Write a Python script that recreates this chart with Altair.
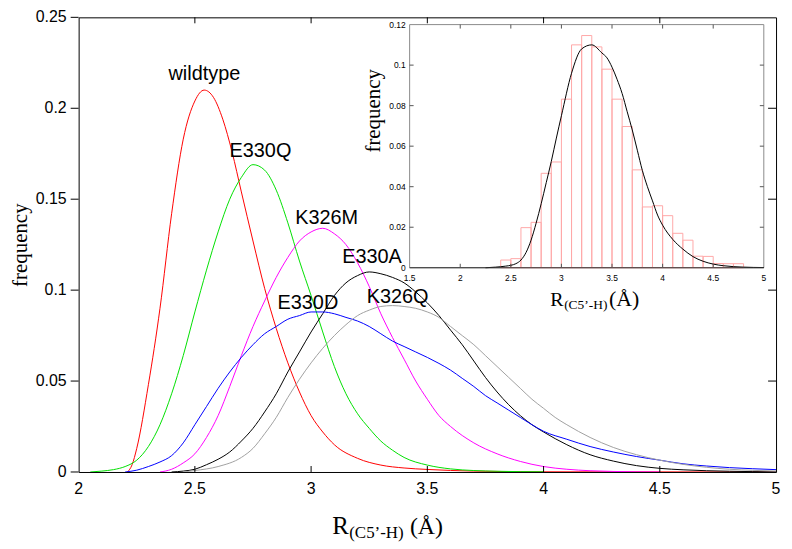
import altair as alt
import pandas as pd

# ---------------- data ----------------
series_names = ["wildtype", "E330Q", "K326M", "E330A", "E330D", "K326Q"]
series_colors = ["#ff0000", "#00e000", "#ff00ff", "#000000", "#0000ff", "#a0a0a0"]

wt_x = [2.21, 2.23, 2.25, 2.30, 2.35, 2.40, 2.45, 2.50, 2.54, 2.58, 2.62, 2.66, 2.70, 2.75,
        2.80, 2.85, 2.90, 2.95, 3.00, 3.05, 3.10, 3.20, 3.30, 3.40, 3.50, 3.70, 4.00, 5.00]
wt_y = [0.0, 0.004, 0.013, 0.048, 0.090, 0.142, 0.183, 0.204, 0.210, 0.206, 0.194, 0.176, 0.154, 0.127,
        0.101, 0.079, 0.060, 0.044, 0.031, 0.022, 0.015, 0.0075, 0.0038, 0.0022, 0.0014, 0.0005, 0.0001, 0.0]

q_x = [2.05, 2.10, 2.15, 2.20, 2.25, 2.30, 2.35, 2.40, 2.45, 2.50, 2.55, 2.60, 2.65, 2.70, 2.75,
       2.80, 2.85, 2.90, 2.95, 3.00, 3.05, 3.10, 3.15, 3.20, 3.25, 3.30, 3.35, 3.40, 3.50, 3.60, 3.70, 3.80, 4.00]
q_y = [0.0, 0.0005, 0.0013, 0.003, 0.0065, 0.014, 0.026, 0.043, 0.064, 0.088, 0.111, 0.132, 0.150, 0.162, 0.169,
       0.166, 0.155, 0.137, 0.116, 0.097, 0.077, 0.058, 0.043, 0.032, 0.024, 0.017, 0.012, 0.008, 0.0038, 0.0017,
       0.0008, 0.0004, 0.0001]

m_x = [2.35, 2.40, 2.45, 2.50, 2.55, 2.60, 2.65, 2.70, 2.75, 2.80, 2.85, 2.90, 2.95, 3.00, 3.05, 3.10,
       3.15, 3.20, 3.25, 3.30, 3.35, 3.40, 3.45, 3.50, 3.55, 3.60, 3.70, 3.80, 3.90, 4.00, 4.10, 4.20, 4.30, 4.50]
m_y = [0.0, 0.0015, 0.005, 0.010, 0.019, 0.031, 0.047, 0.064, 0.080, 0.094, 0.107, 0.118, 0.127, 0.132, 0.134, 0.131,
       0.125, 0.115, 0.102, 0.087, 0.074, 0.062, 0.050, 0.040, 0.031, 0.025, 0.016, 0.010, 0.0058, 0.003, 0.0015,
       0.0007, 0.0003, 0.0]

a_x = [2.40, 2.45, 2.50, 2.55, 2.60, 2.65, 2.70, 2.75, 2.80, 2.85, 2.90, 2.95, 3.00, 3.05, 3.10, 3.15, 3.20,
       3.25, 3.30, 3.35, 3.40, 3.45, 3.50, 3.55, 3.60, 3.65, 3.70, 3.75, 3.80, 3.85, 3.90, 3.95, 4.00,
       4.10, 4.20, 4.30, 4.40, 4.50, 4.60, 4.80, 5.00]
a_y = [0.0, 0.0005, 0.0015, 0.004, 0.007, 0.011, 0.017, 0.024, 0.033, 0.043, 0.055, 0.066, 0.077, 0.087, 0.097, 0.104,
       0.108, 0.110, 0.109, 0.107, 0.104, 0.099, 0.093, 0.086, 0.078, 0.070, 0.061, 0.052, 0.044, 0.037, 0.031, 0.026,
       0.022, 0.015, 0.0095, 0.006, 0.0035, 0.002, 0.0012, 0.0004, 0.0001]

d_x = [2.20, 2.25, 2.30, 2.35, 2.40, 2.45, 2.50, 2.55, 2.60, 2.65, 2.70, 2.75, 2.80, 2.85, 2.90, 2.95, 3.00,
       3.05, 3.10, 3.15, 3.20, 3.25, 3.30, 3.35, 3.40, 3.45, 3.50, 3.55, 3.60, 3.65, 3.70, 3.75, 3.80, 3.85,
       3.90, 3.95, 4.00, 4.10, 4.20, 4.30, 4.40, 4.50, 4.60, 4.70, 4.80, 4.90, 5.00]
d_y = [0.0, 0.001, 0.003, 0.0055, 0.009, 0.016, 0.026, 0.036, 0.046, 0.055, 0.063, 0.070, 0.076, 0.080, 0.084, 0.086,
       0.088, 0.088, 0.087, 0.085, 0.083, 0.080, 0.076, 0.072, 0.069, 0.066, 0.063, 0.0597, 0.056, 0.0515, 0.047,
       0.042, 0.038, 0.034, 0.030, 0.026, 0.0224, 0.018, 0.014, 0.011, 0.0085, 0.0065, 0.0045, 0.0033, 0.0024,
       0.0018, 0.0013]

k_x = [2.45, 2.50, 2.60, 2.70, 2.75, 2.80, 2.85, 2.90, 2.95, 3.00, 3.05, 3.10, 3.15, 3.20, 3.25, 3.30, 3.35,
       3.40, 3.45, 3.50, 3.55, 3.60, 3.65, 3.70, 3.75, 3.80, 3.85, 3.90, 3.95, 4.00, 4.05, 4.10, 4.20, 4.30,
       4.40, 4.50, 4.60, 4.70, 4.80, 4.90, 5.00]
k_y = [0.0, 0.0008, 0.003, 0.008, 0.013, 0.021, 0.030, 0.041, 0.051, 0.060, 0.068, 0.075, 0.081, 0.086, 0.089, 0.091,
       0.0915, 0.091, 0.090, 0.088, 0.085, 0.080, 0.075, 0.070, 0.064, 0.058, 0.052, 0.046, 0.040, 0.035, 0.030,
       0.026, 0.019, 0.0135, 0.0095, 0.0065, 0.0042, 0.0026, 0.0015, 0.0009, 0.0005]

series_x = [wt_x, q_x, m_x, a_x, d_x, k_x]
series_y = [wt_y, q_y, m_y, a_y, d_y, k_y]

label_text = ["wildtype", "E330Q", "K326M", "E330A", "E330D", "K326Q"]
label_x = [2.541, 2.782, 3.067, 3.262, 2.986, 3.372]
label_y = [0.2158, 0.1734, 0.1363, 0.1150, 0.0898, 0.0929]

main_x_ticks = [2, 2.5, 3, 3.5, 4, 4.5, 5]
main_x_labels = ["2", "2.5", "3", "3.5", "4", "4.5", "5"]
main_y_ticks = [0, 0.05, 0.1, 0.15, 0.2, 0.25]
main_y_labels = ["0", "0.05", "0.1", "0.15", "0.2", "0.25"]

# inset histogram (bins of 0.1) and fitted curve
hist_lo = [2.4, 2.5, 2.6, 2.7, 2.8, 2.9, 3.0, 3.1, 3.2, 3.3, 3.4, 3.5, 3.6, 3.7, 3.8, 3.9,
           4.0, 4.1, 4.2, 4.3, 4.4, 4.5, 4.6, 4.7]
hist_freq = [0.0038, 0.0045, 0.0198, 0.0224, 0.0466, 0.0522, 0.0832, 0.110, 0.1146, 0.109, 0.098, 0.0832,
             0.0697, 0.0483, 0.0300, 0.0306, 0.0257, 0.0170, 0.0136, 0.0057, 0.0056, 0.0021, 0.0020, 0.0020]
fit_x = [2.25, 2.35, 2.45, 2.50, 2.55, 2.60, 2.65, 2.70, 2.75, 2.80, 2.85, 2.90, 2.95, 3.00, 3.10, 3.20, 3.30,
         3.40, 3.45, 3.50, 3.55, 3.60, 3.65, 3.70, 3.75, 3.80, 3.85, 3.90, 3.95, 4.00, 4.10, 4.20, 4.30,
         4.40, 4.50, 4.60, 4.80, 5.00]
fit_y = [0.0, 0.0003, 0.0008, 0.0012, 0.002, 0.0038, 0.0075, 0.0136, 0.022, 0.0316, 0.042, 0.0525, 0.064, 0.075,
         0.096, 0.108, 0.110, 0.106, 0.1036, 0.099, 0.093, 0.086, 0.077, 0.068, 0.058, 0.048, 0.040, 0.033, 0.026,
         0.021, 0.014, 0.0092, 0.0055, 0.0032, 0.0018, 0.001, 0.0003, 0.0001]
inset_x_ticks = [1.5, 2, 2.5, 3, 3.5, 4, 4.5, 5]
inset_x_labels = ["1.5", "2", "2.5", "3", "3.5", "4", "4.5", "5"]
inset_y_ticks = [0, 0.02, 0.04, 0.06, 0.08, 0.1, 0.12]
inset_y_labels = ["0", "0.02", "0.04", "0.06", "0.08", "0.1", "0.12"]

# ---------------- layout ----------------
W, H = 701, 457
IX0, IX1, IY0, IY1 = 332.7, 688.7, 7.3, 251.7   # inset plot rectangle inside the main plot
SANS = "Liberation Sans"
SERIF = "Liberation Serif"

rows = []
for name, xs, ys in zip(series_names, series_x, series_y):
    for xv, yv in zip(xs, ys):
        rows.append({"series": name, "x": xv, "y": yv})
df_lines = pd.DataFrame(rows)
df_labels = pd.DataFrame({"label": label_text, "x": label_x, "y": label_y})

xs_main = alt.Scale(domain=[main_x_ticks[0], main_x_ticks[-1]], nice=False, zero=False)
ys_main = alt.Scale(domain=[main_y_ticks[0], main_y_ticks[-1]], nice=False, zero=False)


def X(field, scale):
    return alt.X(field, scale=scale, axis=None)


def Y(field, scale):
    return alt.Y(field, scale=scale, axis=None)


lines = alt.Chart(df_lines).mark_line(strokeWidth=1, interpolate="monotone", clip=True).encode(
    x=X("x:Q", xs_main),
    y=Y("y:Q", ys_main),
    color=alt.Color("series:N", scale=alt.Scale(domain=series_names, range=series_colors), legend=None),
    detail="series:N",
)

labels = alt.Chart(df_labels).mark_text(font=SANS, fontSize=20, baseline="alphabetic",
                                        align="center", color="black").encode(
    x=X("x:Q", xs_main), y=Y("y:Q", ys_main), text="label:N")

df_mx = pd.DataFrame({"t": main_x_ticks, "lab": main_x_labels})
df_my = pd.DataFrame({"t": main_y_ticks, "lab": main_y_labels})
inner_x = pd.DataFrame({"t": main_x_ticks[1:-1]})
inner_y = pd.DataFrame({"t": main_y_ticks[1:-1]})

tick_bottom = alt.Chart(inner_x).mark_rule(color="black", strokeWidth=1).encode(
    x=X("t:Q", xs_main), y=alt.value(H), y2=alt.value(H - 6))
tick_top = alt.Chart(inner_x).mark_rule(color="black", strokeWidth=1).encode(
    x=X("t:Q", xs_main), y=alt.value(0), y2=alt.value(6))
tick_right = alt.Chart(inner_y).mark_rule(color="black", strokeWidth=1).encode(
    y=Y("t:Q", ys_main), x=alt.value(W), x2=alt.value(W - 8))
tick_left = alt.Chart(df_my).mark_rule(color="black", strokeWidth=1).encode(
    y=Y("t:Q", ys_main), x=alt.value(-8), x2=alt.value(0))
xlab_main = alt.Chart(df_mx).mark_text(font=SANS, fontSize=16, baseline="top", align="center",
                                       color="black").encode(
    x=X("t:Q", xs_main), y=alt.value(H + 9), text="lab:N")
ylab_main = alt.Chart(df_my).mark_text(font=SANS, fontSize=16, baseline="middle", align="right",
                                       color="black").encode(
    y=Y("t:Q", ys_main), x=alt.value(-12), text="lab:N")

main = alt.layer(lines, labels, tick_bottom, tick_top, tick_right, tick_left, xlab_main, ylab_main)

# ---------------- inset ----------------
xs_in = alt.Scale(domain=[inset_x_ticks[0], inset_x_ticks[-1]], range=[IX0, IX1], nice=False, zero=False)
ys_in = alt.Scale(domain=[inset_y_ticks[0], inset_y_ticks[-1]], range=[IY1, IY0], nice=False, zero=False)

df_hist = pd.DataFrame({"lo": hist_lo, "hi": [v + 0.1 for v in hist_lo], "f": hist_freq})
df_fit = pd.DataFrame({"x": fit_x, "y": fit_y})
df_frame = pd.DataFrame({"x0": [inset_x_ticks[0]], "x1": [inset_x_ticks[-1]],
                         "y0": [inset_y_ticks[0]], "y1": [inset_y_ticks[-1]]})
df_ix = pd.DataFrame({"t": inset_x_ticks, "lab": inset_x_labels})
df_iy = pd.DataFrame({"t": inset_y_ticks, "lab": inset_y_labels})

frame = alt.Chart(df_frame).mark_rect(fillOpacity=0, fill="white", stroke="#8a8a8a", strokeWidth=1).encode(
    x=X("x0:Q", xs_in), x2="x1:Q", y=Y("y0:Q", ys_in), y2="y1:Q")
frame_bottom = alt.Chart(df_frame).mark_rule(color="#333", strokeWidth=1).encode(
    x=X("x0:Q", xs_in), x2="x1:Q", y=Y("y0:Q", ys_in))

bars = alt.Chart(df_hist).mark_bar(fillOpacity=0, stroke="#ffa8a8", strokeWidth=1).encode(
    x=X("lo:Q", xs_in), x2="hi:Q",
    y=Y("f:Q", ys_in), y2=alt.datum(0),
)
fit = alt.Chart(df_fit).mark_line(color="black", strokeWidth=1, interpolate="monotone").encode(
    x=X("x:Q", xs_in), y=Y("y:Q", ys_in))

in_inner_x = pd.DataFrame({"t": inset_x_ticks[1:-1]})
in_inner_y = pd.DataFrame({"t": inset_y_ticks[1:-1]})
it_b = alt.Chart(in_inner_x).mark_rule(color="#555").encode(
    x=X("t:Q", xs_in), y=alt.value(IY1), y2=alt.value(IY1 - 4))
it_t = alt.Chart(in_inner_x).mark_rule(color="#555").encode(
    x=X("t:Q", xs_in), y=alt.value(IY0), y2=alt.value(IY0 + 4))
it_l = alt.Chart(in_inner_y).mark_rule(color="#555").encode(
    y=Y("t:Q", ys_in), x=alt.value(IX0), x2=alt.value(IX0 + 4))
it_r = alt.Chart(in_inner_y).mark_rule(color="#555").encode(
    y=Y("t:Q", ys_in), x=alt.value(IX1), x2=alt.value(IX1 - 4))
xlab_in = alt.Chart(df_ix).mark_text(font=SANS, fontSize=8.5, baseline="top", align="center",
                                     color="black").encode(
    x=X("t:Q", xs_in), y=alt.value(IY1 + 6), text="lab:N")
ylab_in = alt.Chart(df_iy).mark_text(font=SANS, fontSize=8.5, baseline="middle", align="right",
                                     color="black").encode(
    y=Y("t:Q", ys_in), x=alt.value(IX0 - 4), text="lab:N")

inset = alt.layer(frame, bars, fit, frame_bottom, it_b, it_t, it_l, it_r, xlab_in, ylab_in)


# ---------------- titles (text pieces for subscripts) ----------------
def piece(text, x, y, size, angle=0, align="left", baseline="alphabetic"):
    return alt.Chart(pd.DataFrame({"t": [text]})).mark_text(
        font=SERIF, fontSize=size, angle=angle, align=align, baseline=baseline,
        color="black").encode(text="t:N", x=alt.value(x), y=alt.value(y))


titles = alt.layer(
    piece("R", 255, 519, 25),
    piece("(C5’-H)", 272, 523, 17),
    piece("(Å)", 333, 519, 24),
    piece("frequency", -58, 229, 21, angle=270, align="center", baseline="middle"),
    piece("R", 474, 290, 20),
    piece("(C5’-H)", 488, 293, 13.5),
    piece("(Å)", 533, 290, 22),
    piece("frequency", 297, 94, 21, angle=270, align="center", baseline="middle"),
)

chart = alt.layer(main, inset, titles).resolve_scale(
    x="independent", y="independent"
).properties(
    width=W, height=H,
    autosize=alt.AutoSizeParams(type="none"),
    padding={"left": 71, "top": 8, "right": 8, "bottom": 72},
).configure_view(
    stroke="black", strokeWidth=1
)

chart.save("out.html", embed_options={"renderer": "svg", "actions": False})
